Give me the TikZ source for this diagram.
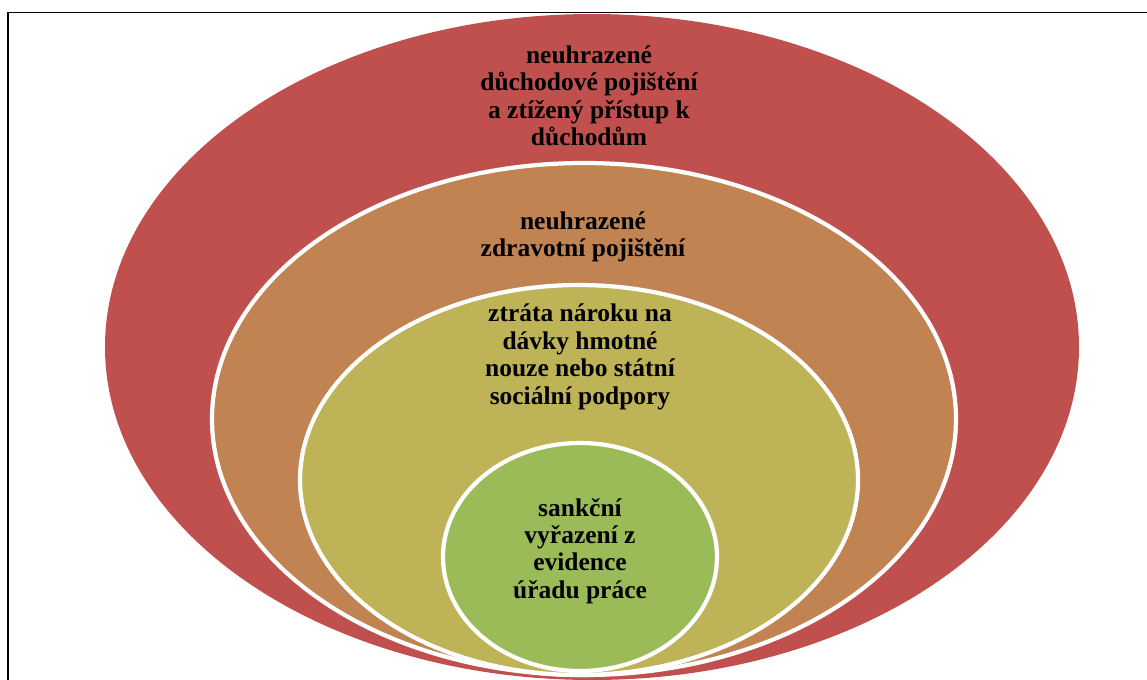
\documentclass[tikz,border=0pt]{standalone}
\usepackage{fontspec}
\setmainfont{Liberation Serif}
\definecolor{OuterClr}{RGB}{192,80,77}
\definecolor{SecondClr}{RGB}{192,131,81}
\definecolor{ThirdClr}{RGB}{191,179,87}
\definecolor{InnerClr}{RGB}{155,187,89}

\begin{document}
\begin{tikzpicture}[x=0.02cm,y=-0.02cm,
  ring/.style={draw=white,line width=2.4pt},
  txt/.style={align=center,inner sep=0pt,font=\fontsize{14.5}{15.6}\selectfont\bfseries}]
\useasboundingbox (0,0) rectangle (1147,680);

% frame
\draw[line width=0.9pt] (8,720) -- (8,12.5) -- (1180,12.5);

% nested ellipses
\fill[OuterClr] (592,347) ellipse [x radius=487,y radius=333];
\filldraw[ring,fill=SecondClr] (584,419) ellipse [x radius=372,y radius=256];
\filldraw[ring,fill=ThirdClr] (579,480) ellipse [x radius=279,y radius=195];
\filldraw[ring,fill=InnerClr] (580,557) ellipse [x radius=137,y radius=114];

\node[txt] (pension) at (589,96) {neuhrazené\\důchodové pojištění\\a ztížený přístup k\\důchodům};
\node[txt] (health) at (583,237) {neuhrazené\\zdravotní pojištění};
\node[txt] (benefit) at (580,357) {ztráta nároku na\\dávky hmotné\\nouze nebo státní\\sociální podpory};
\node[txt] (office) at (580,551) {sankční\\vyřazení z\\evidence\\úřadu práce};

\end{tikzpicture}
\end{document}
